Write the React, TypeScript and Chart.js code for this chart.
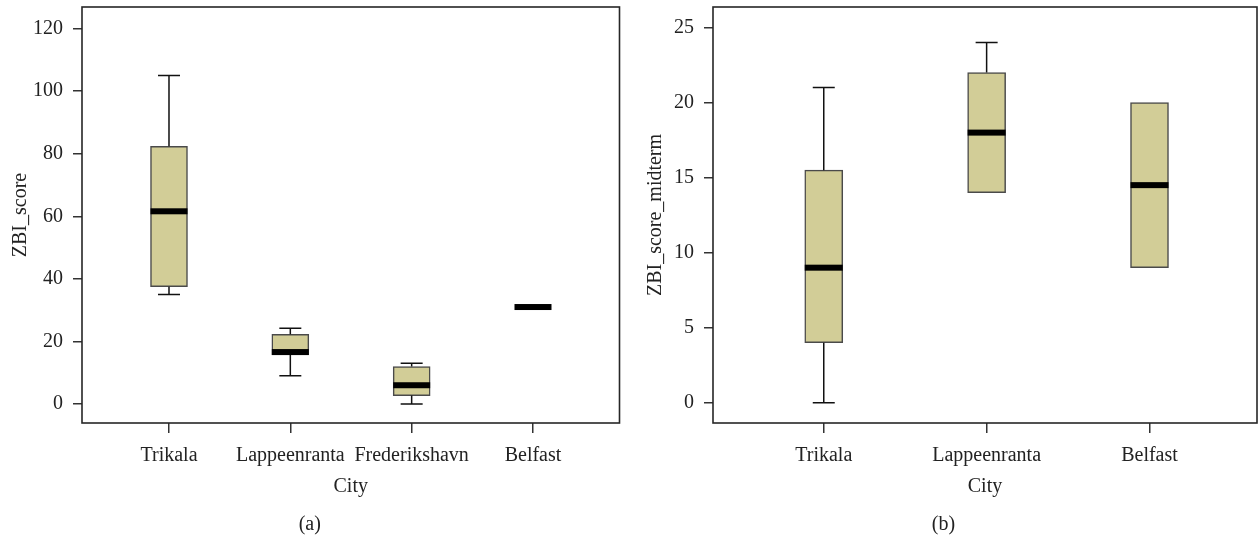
import React, { useEffect, useRef } from "react";
import { Chart, registerables } from "chart.js";

Chart.register(...registerables);

// ---- Panel (a): ZBI_score by City ----
const citiesA = ["Trikala", "Lappeenranta", "Frederikshavn", "Belfast"];
const minA = [35, 9, 0, 31];
const q1A = [37.5, 15.8, 2.7, 31];
const medA = [61.6, 16.6, 6, 31];
const q3A = [82.4, 22.3, 12, 31];
const maxA = [105, 24.2, 13, 31];
const yTicksA = [0, 20, 40, 60, 80, 100, 120];

// ---- Panel (b): ZBI_score_midterm by City ----
const citiesB = ["Trikala", "Lappeenranta", "Belfast"];
const minB = [0, 14, 9];
const q1B = [4, 14, 9];
const medB = [9, 18, 14.5];
const q3B = [15.5, 22, 20];
const maxB = [21, 24, 20];
const yTicksB = [0, 5, 10, 15, 20, 25];

const FONT = "'Liberation Serif', 'Times New Roman', serif";
const TEXT = "#222222";
const BOX_FILL = "#D2CD97";
const BOX_EDGE = "#4a4a4a";

type Stats = { min: number[]; q1: number[]; med: number[]; q3: number[]; max: number[] };

function makeBoxPlugin(s: Stats, boxW: number, capW: number) {
  return {
    id: "boxExtras",
    afterDatasetsDraw(chart: any) {
      const { ctx, chartArea, scales } = chart;
      const x = scales.x;
      const y = scales.y;
      ctx.save();
      ctx.strokeStyle = "#111111";
      ctx.lineWidth = 1.5;
      s.med.forEach((m, i) => {
        const px = x.getPixelForValue(i + 1);
        const pairs = [
          [s.q3[i], s.max[i]],
          [s.q1[i], s.min[i]],
        ];
        pairs.forEach(([a, b]) => {
          if (a === b) return;
          const ya = y.getPixelForValue(a);
          const yb = y.getPixelForValue(b);
          ctx.beginPath();
          ctx.moveTo(px, ya);
          ctx.lineTo(px, yb);
          ctx.moveTo(px - capW / 2, yb);
          ctx.lineTo(px + capW / 2, yb);
          ctx.stroke();
        });
        const ym = y.getPixelForValue(m);
        ctx.fillStyle = "#000000";
        ctx.fillRect(px - boxW / 2, ym - 3, boxW, 6);
      });
      ctx.strokeStyle = "#262626";
      ctx.lineWidth = 1.6;
      ctx.strokeRect(
        chartArea.left,
        chartArea.top,
        chartArea.right - chartArea.left,
        chartArea.bottom - chartArea.top
      );
      ctx.restore();
    },
  };
}

type PanelProps = {
  cities: string[];
  stats: Stats;
  yTicks: number[];
  yMin: number;
  yMax: number;
  xMin: number;
  xMax: number;
  yTitle: string;
  yTitlePad: number;
  panel: string;
  axisWidth: number;
  rightPad: number;
  boxW: number;
  capW: number;
  width: number;
  left: number;
};

function BoxPanel(p: PanelProps) {
  const ref = useRef<HTMLCanvasElement | null>(null);
  useEffect(() => {
    if (!ref.current) return;
    const data = p.cities.map((_, i) => ({ x: i + 1, y: [p.stats.q1[i], p.stats.q3[i]] }));
    const chart = new Chart(ref.current, {
      type: "bar",
      data: {
        datasets: [
          {
            data: data as any,
            backgroundColor: BOX_FILL,
            borderColor: BOX_EDGE,
            borderWidth: 1.5,
            borderSkipped: false,
            barThickness: p.boxW,
          } as any,
        ],
      },
      options: {
        animation: false,
        responsive: true,
        maintainAspectRatio: false,
        layout: { padding: { top: 7, left: 0, right: p.rightPad, bottom: 2 } },
        plugins: {
          legend: { display: false },
          tooltip: { enabled: false },
          title: {
            display: true,
            text: p.panel,
            position: "bottom",
            color: TEXT,
            font: { family: FONT, size: 20, weight: "normal" },
            padding: 0,
          },
        },
        scales: {
          x: {
            type: "linear",
            offset: false,
            min: p.xMin,
            max: p.xMax,
            afterBuildTicks: (axis: any) => {
              axis.ticks = p.cities.map((_, i) => ({ value: i + 1 }));
            },
            afterFit: (axis: any) => {
              axis.height = 90;
              axis.paddingLeft = 0;
              axis.paddingRight = 0;
            },
            ticks: {
              callback: (v: any) => p.cities[Number(v) - 1] ?? "",
              color: TEXT,
              font: { family: FONT, size: 20 },
              padding: 11,
              maxRotation: 0,
              autoSkip: false,
            },
            grid: {
              display: true,
              offset: false,
              drawOnChartArea: false,
              drawTicks: true,
              tickLength: 10,
              color: "#333333",
              lineWidth: 1.5,
            },
            border: { display: false },
            title: {
              display: true,
              text: "City",
              color: TEXT,
              font: { family: FONT, size: 20 },
              padding: { top: 0, bottom: 14 },
            },
          } as any,
          y: {
            type: "linear",
            min: p.yMin,
            max: p.yMax,
            afterBuildTicks: (axis: any) => {
              axis.ticks = p.yTicks.map((v) => ({ value: v }));
            },
            afterFit: (axis: any) => {
              axis.width = p.axisWidth;
              axis.paddingTop = 0;
              axis.paddingBottom = 0;
            },
            ticks: {
              color: TEXT,
              font: { family: FONT, size: 20 },
              padding: 10,
            },
            grid: {
              display: true,
              drawOnChartArea: false,
              drawTicks: true,
              tickLength: 9,
              color: "#333333",
              lineWidth: 1.5,
            },
            border: { display: false },
            title: {
              display: true,
              text: p.yTitle,
              color: TEXT,
              font: { family: FONT, size: 20 },
              padding: { top: p.yTitlePad, bottom: 0 },
            },
          },
        },
      },
      plugins: [makeBoxPlugin(p.stats, p.boxW, p.capW)],
    });
    return () => chart.destroy();
  }, []);
  return (
    <div
      style={{
        position: "absolute",
        left: p.left,
        top: 0,
        width: p.width,
        height: 539,
      }}
    >
      <canvas ref={ref} />
    </div>
  );
}

export default function App() {
  return (
    <div
      style={{
        position: "absolute",
        left: 0,
        top: 0,
        width: 1258,
        height: 539,
        background: "#ffffff",
        overflow: "hidden",
      }}
    >
      <BoxPanel
        cities={citiesA}
        stats={{ min: minA, q1: q1A, med: medA, q3: q3A, max: maxA }}
        yTicks={yTicksA}
        yMin={-6.07}
        yMax={126.9}
        xMin={0.283}
        xMax={4.713}
        yTitle="ZBI_score"
        yTitlePad={9}
        panel="(a)"
        axisWidth={82}
        rightPad={10.5}
        boxW={37}
        capW={22}
        width={630}
        left={0}
      />
      <BoxPanel
        cities={citiesB}
        stats={{ min: minB, q1: q1B, med: medB, q3: q3B, max: maxB }}
        yTicks={yTicksB}
        yMin={-1.35}
        yMax={26.37}
        xMin={0.32}
        xMax={3.66}
        yTitle="ZBI_score_midterm"
        yTitlePad={14}
        panel="(b)"
        axisWidth={83}
        rightPad={1}
        boxW={38}
        capW={22}
        width={628}
        left={630}
      />
    </div>
  );
}
